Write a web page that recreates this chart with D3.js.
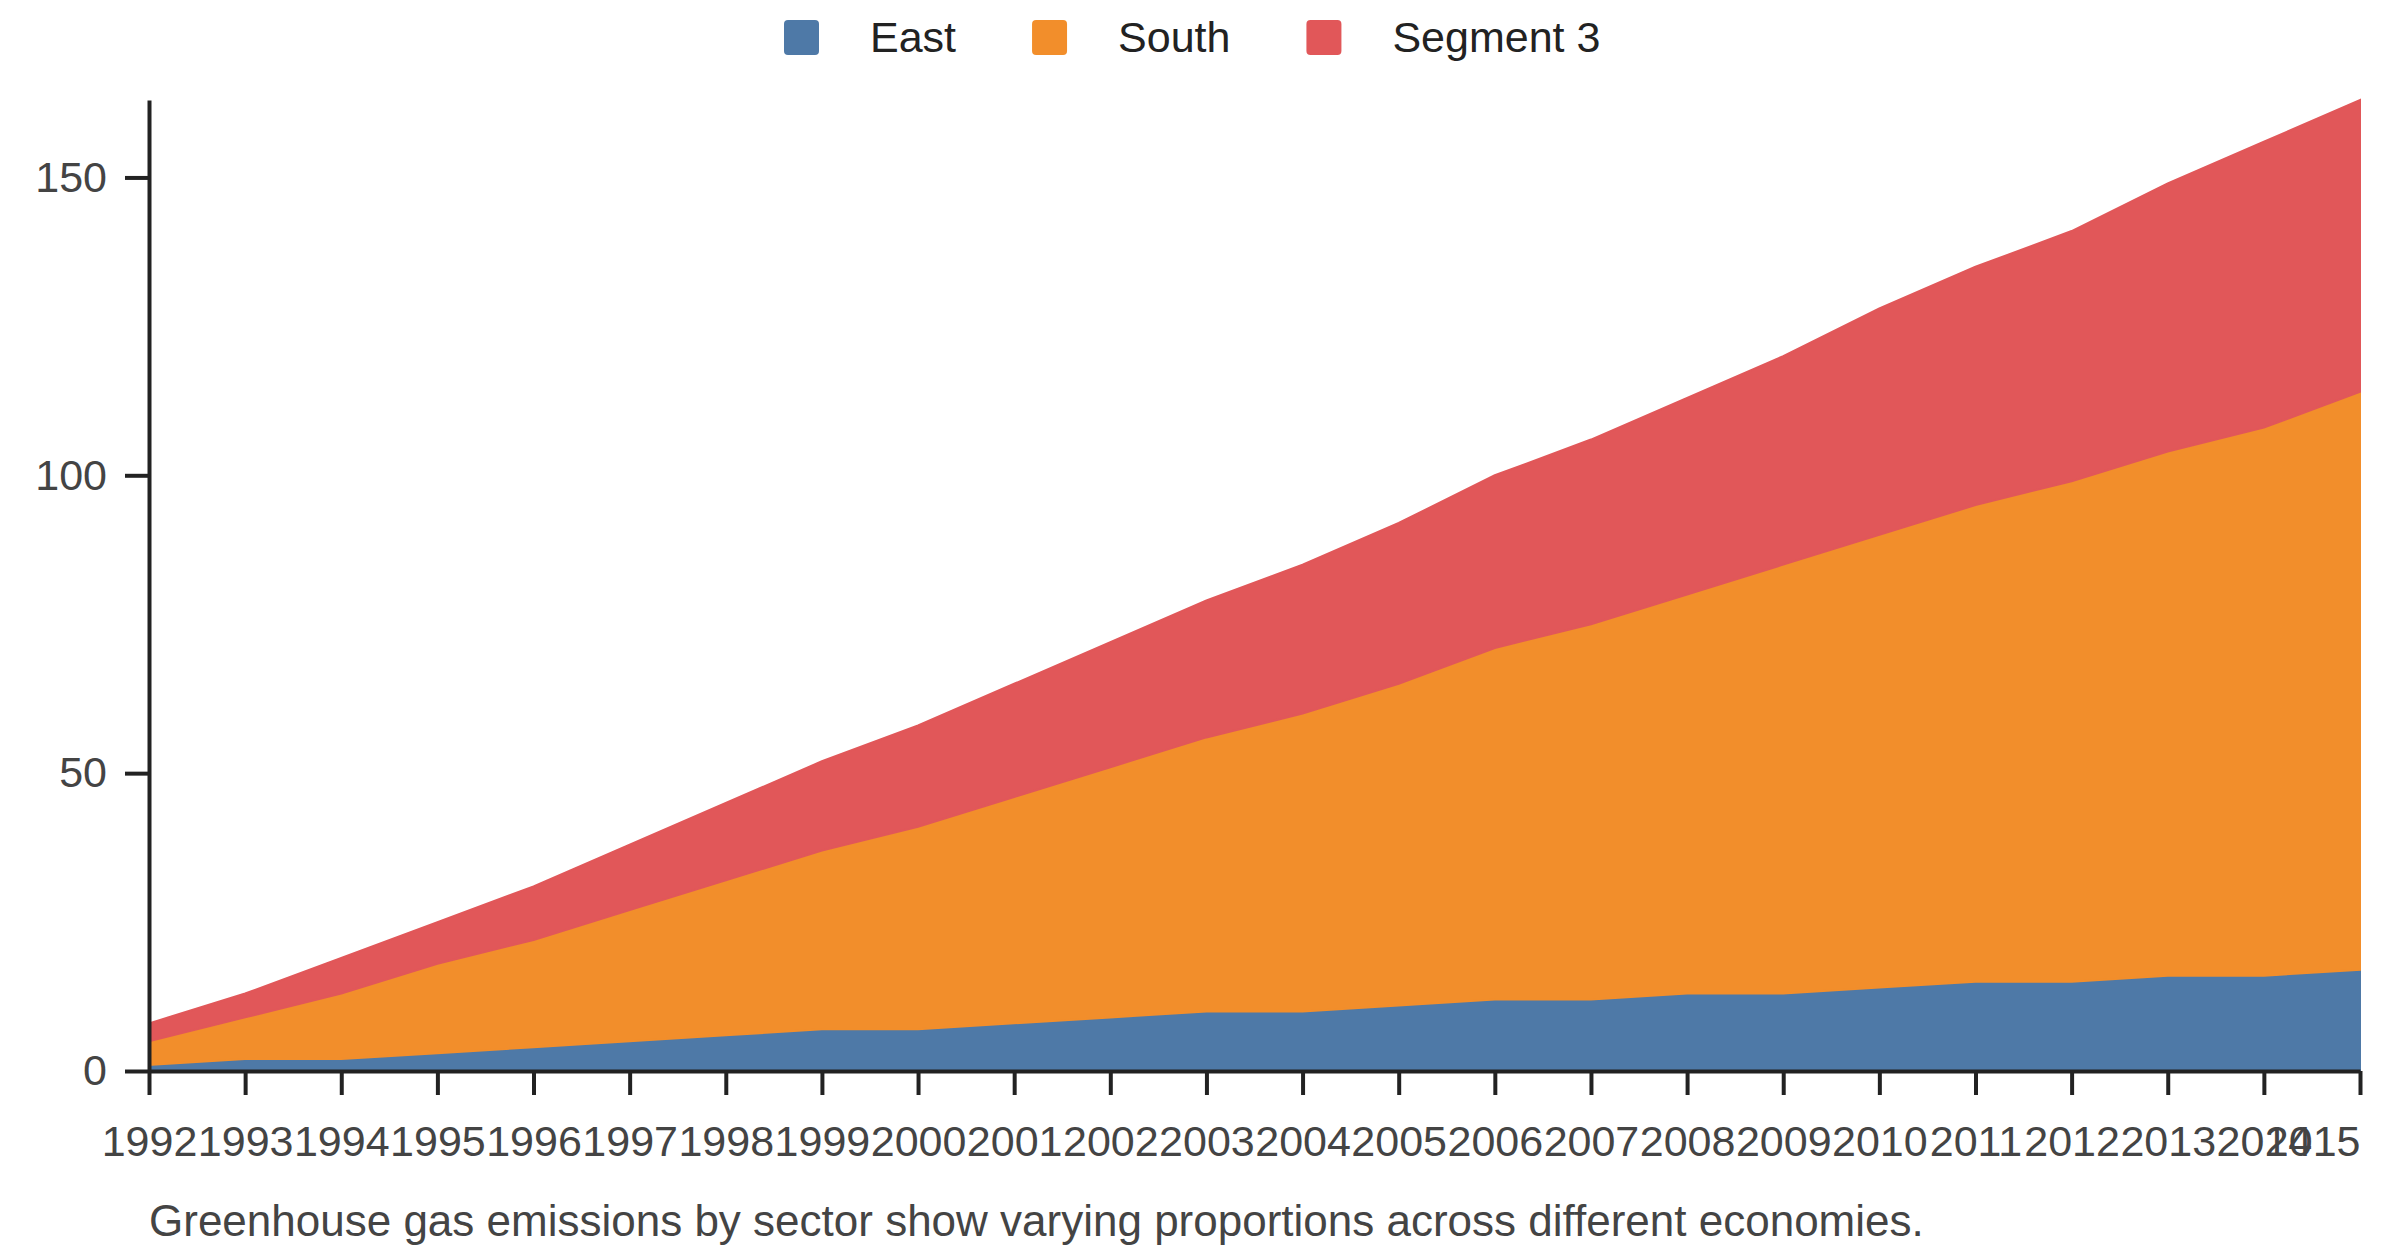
<!DOCTYPE html>
<html>
<head>
<meta charset="utf-8">
<script src="https://cdn.jsdelivr.net/npm/d3@7"></script>
<style>
  html, body { margin: 0; padding: 0; background: #fff; }
  svg { display: block; font-family: "Liberation Sans", Arial, sans-serif; }
</style>
</head>
<body>
<svg width="2400" height="1256"></svg>
<script>
const years = [1992, 1993, 1994, 1995, 1996, 1997, 1998, 1999, 2000, 2001, 2002, 2003,
               2004, 2005, 2006, 2007, 2008, 2009, 2010, 2011, 2012, 2013, 2014, 2015];
const east = [1, 2, 2, 3, 4, 5, 6, 7, 7, 8, 9, 10, 10, 11, 12, 12, 13, 13, 14, 15, 15, 16, 16, 17];
const south = [4, 7, 11, 15, 18, 22, 26, 30, 34, 38, 42, 46, 50, 54, 59, 63, 67, 72, 76, 80, 84, 88, 92, 97];
const segment3 = [3, 4, 6, 7, 9, 11, 13, 15, 17, 19, 21, 23, 25, 27, 29, 31, 33, 35, 38, 40, 42, 45, 48, 49];
const seriesNames = ["East", "South", "Segment 3"];
const colors = ["#4e79a7", "#f28e2b", "#e15759"];
const yTicks = [0, 50, 100, 150];
const caption = "Greenhouse gas emissions by sector show varying proportions across different economies.";

const svg = d3.select("svg");
const margin = { top: 100, left: 149, right: 40, bottom: 185 };
const width = 2400, height = 1256;

const rows = years.map((y, i) => ({ year: y, "East": east[i], "South": south[i], "Segment 3": segment3[i] }));
const stacked = d3.stack().keys(seriesNames)(rows);

const x = d3.scaleLinear()
  .domain(d3.extent(years))
  .range([margin.left, width - margin.right]);

const y = d3.scaleLinear()
  .domain([0, d3.max(stacked[stacked.length - 1], d => d[1])])
  .range([height - margin.bottom, margin.top]);

const area = d3.area()
  .x(d => x(d.data.year))
  .y0(d => y(d[0]))
  .y1(d => y(d[1]));

svg.append("g")
  .selectAll("path")
  .data(stacked)
  .join("path")
  .attr("d", area)
  .attr("fill", (d, i) => colors[i])
  .attr("stroke", (d, i) => colors[i])
  .attr("stroke-width", 2);

// axes
const xAxis = svg.append("g")
  .attr("transform", `translate(0,${height - margin.bottom})`)
  .call(d3.axisBottom(x).tickValues(years).tickFormat(d3.format("d"))
    .tickSize(24).tickSizeOuter(0).tickPadding(30));

const yAxis = svg.append("g")
  .attr("transform", `translate(${margin.left},0)`)
  .call(d3.axisLeft(y).tickValues(yTicks).tickSize(24).tickSizeOuter(0).tickPadding(18));

[xAxis, yAxis].forEach(g => {
  g.select(".domain").attr("stroke", "#222").attr("stroke-width", 4);
  g.selectAll(".tick line").attr("stroke", "#222").attr("stroke-width", 4);
  g.selectAll(".tick text")
    .attr("fill", "#444")
    .style("font-size", "43px")
    .style("font-family", "'Liberation Sans', Arial, sans-serif");
});

// keep the last year label inside the chart
xAxis.selectAll(".tick text")
  .filter(d => d === years[years.length - 1])
  .attr("text-anchor", "end");

// legend
const legend = svg.append("g").attr("transform", "translate(784,20)");
let lx = 0;
seriesNames.forEach((name, i) => {
  const item = legend.append("g").attr("transform", `translate(${lx},0)`);
  item.append("rect")
    .attr("width", 35).attr("height", 35).attr("rx", 4)
    .attr("fill", colors[i]);
  const t = item.append("text")
    .attr("x", 86).attr("y", 32)
    .attr("fill", "#222")
    .style("font-size", "43px")
    .text(name);
  lx += 86 + t.node().getComputedTextLength() + 76;
});

// caption
svg.append("text")
  .attr("x", margin.left)
  .attr("y", 1236)
  .attr("fill", "#444")
  .style("font-size", "44px")
  .text(caption);
</script>
</body>
</html>
